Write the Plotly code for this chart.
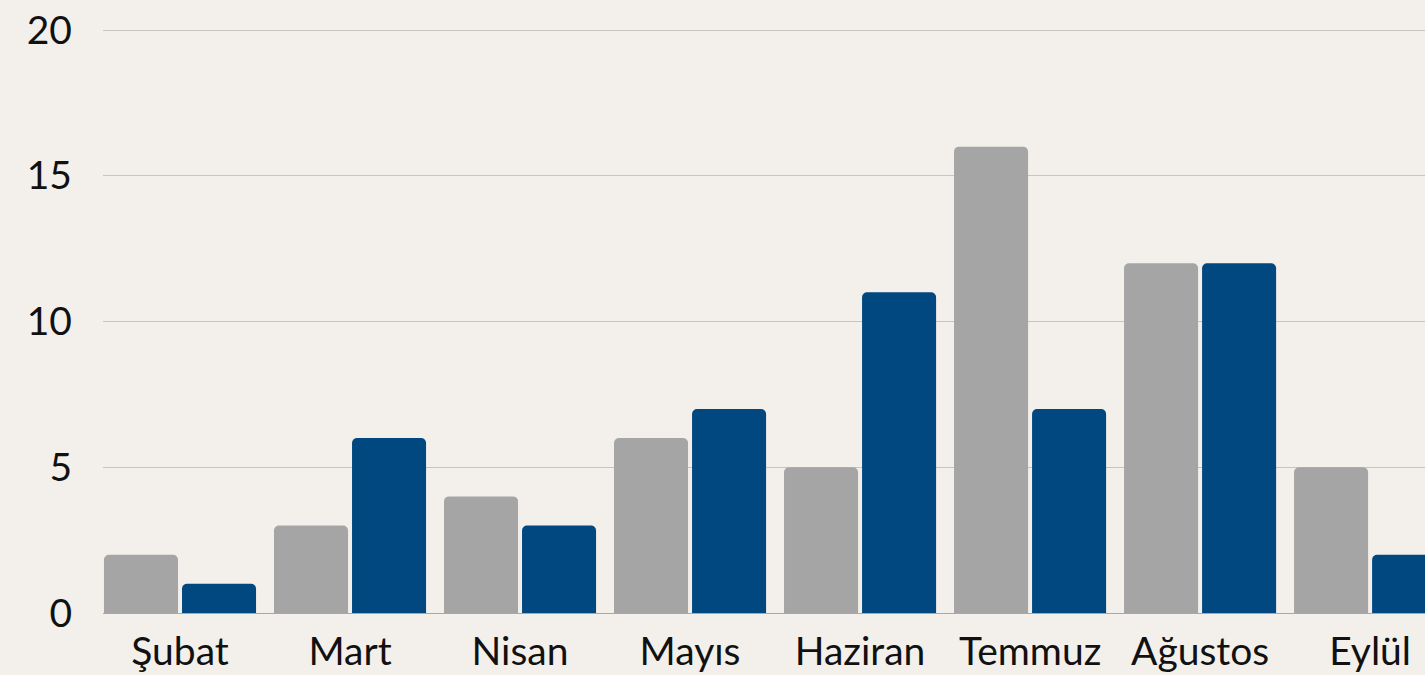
import plotly.graph_objects as go

months = ["Şubat", "Mart", "Nisan", "Mayıs", "Haziran", "Temmuz", "Ağustos", "Eylül"]
gray_values = [2, 3, 4, 6, 5, 16, 12, 5]
blue_values = [1, 6, 3, 7, 11, 7, 12, 2]
y_ticks = [0, 5, 10, 15, 20]

BG = "#F3F0EB"
FONT = "Lato"

fig = go.Figure()
fig.add_trace(go.Bar(x=months, y=gray_values, marker=dict(color="#A5A5A5", line=dict(width=0)),
                     showlegend=False))
fig.add_trace(go.Bar(x=months, y=blue_values, marker=dict(color="#00487F", line=dict(width=0)),
                     showlegend=False))

fig.update_layout(
    width=1425, height=675,
    paper_bgcolor=BG, plot_bgcolor=BG,
    margin=dict(l=103, r=0, t=28, b=62),
    barmode="group", bargap=0.082, bargroupgap=0.0513,
    barcornerradius=5,
    font=dict(family=FONT, size=39, color="#111111"),
    xaxis=dict(
        type="category",
        range=[-0.453, 7.323],
        showgrid=False,
        showline=True, linecolor="#A8A8A8", linewidth=1,
        ticks="", tickfont=dict(family=FONT, size=39, color="#111111"),
        ticklabelstandoff=4,
        fixedrange=True,
    ),
    yaxis=dict(
        range=[0, 20.07],
        tickvals=y_ticks,
        showgrid=True, gridcolor="#C8C5C0", gridwidth=1,
        zeroline=False, showline=False,
        ticks="", tickfont=dict(family=FONT, size=39, color="#111111"),
        ticklabelstandoff=30,
        fixedrange=True,
    ),
)

fig.write_html(
    "out.html",
    config={"displayModeBar": False},
    post_script="document.body.style.margin='0';document.body.style.background='#F3F0EB';",
)
